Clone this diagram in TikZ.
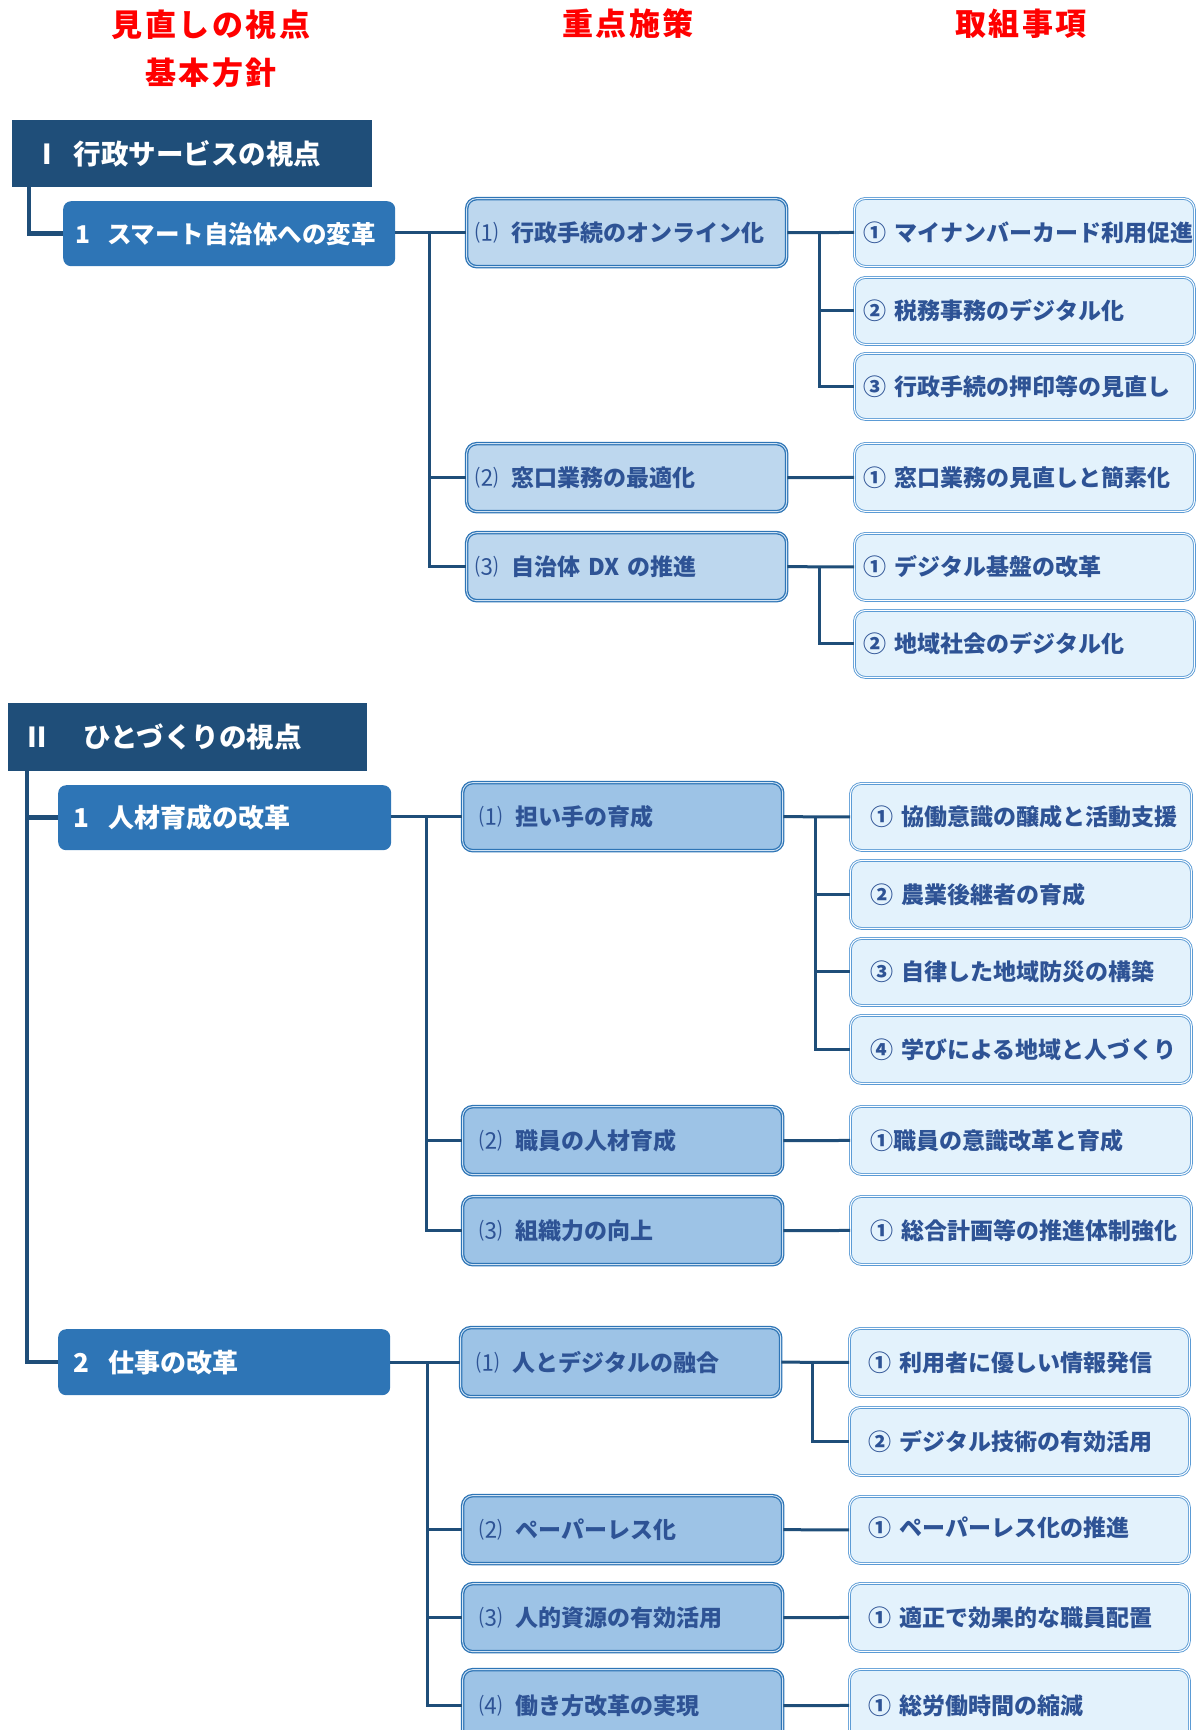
\documentclass[tikz,border=0pt]{standalone}
\usepackage{fontspec}
\newfontfamily\jp{Noto Sans CJK JP}
\usetikzlibrary{calc}
\definecolor{navy}{HTML}{1F4E79}
\definecolor{lvtwo}{HTML}{2E75B6}
\definecolor{midA}{HTML}{BDD7EE}
\definecolor{midB}{HTML}{9DC3E6}
\definecolor{midline}{HTML}{2E75B6}
\definecolor{rfill}{HTML}{E3F2FC}
\definecolor{rline}{HTML}{5B9BD5}
\definecolor{txtblue}{HTML}{2E5395}
\definecolor{conncol}{HTML}{1F4E79}
\newcommand{\hdrfnt}{\jp\bfseries\fontsize{27.5pt}{31pt}\selectfont}
\newcommand{\lvfnt}{\jp\bfseries\fontsize{26pt}{30pt}\selectfont}
\newcommand{\boxfnt}{\jp\bfseries\fontsize{23pt}{27pt}\selectfont}
\newcommand{\ttlfnt}{\jp\bfseries\fontsize{31pt}{36pt}\selectfont\addfontfeatures{LetterSpace=8}}
\newcommand{\pn}[1]{{\mdseries #1}\hspace{13pt}}
\newcommand{\cn}[1]{#1\hspace{8pt}}
\begin{document}
\begin{tikzpicture}[x=1pt,y=-1pt,
  hdrbox/.style={anchor=north west, fill=navy, text=white, font=\hdrfnt, inner ysep=0pt, align=left},
  lvbox/.style={anchor=north west, fill=lvtwo, text=white, font=\lvfnt, rounded corners=8pt, inner ysep=0pt, align=left},
  midbox/.style={anchor=north west, draw=midline, line width=1.3pt, double=white!55!midB, double distance=0.9pt, rounded corners=10pt, text=txtblue, font=\boxfnt, inner ysep=0pt, align=left},
  midI/.style={midbox, fill=midA, inner xsep=9pt, text width=302pt},
  midII/.style={midbox, fill=midB, inner xsep=17pt, text width=286pt},
  midIII/.style={midbox, fill=midB, inner xsep=16pt, text width=288pt},
  rbox/.style={anchor=north west, draw=rline, line width=0.9pt, double=white, double distance=1pt, fill=rfill, rounded corners=11pt, text=txtblue, font=\boxfnt, inner ysep=0pt, align=left},
  rI/.style={rbox, inner xsep=9pt, text width=322pt},
  rII/.style={rbox, inner xsep=20pt, text width=301pt},
  rIII/.style={rbox, inner xsep=19pt, text width=302pt},
  conn/.style={draw=conncol, line width=3pt},
  trunk/.style={draw=conncol, line width=4.5pt},
  ttl/.style={text=red, font=\ttlfnt, inner sep=0pt}
]
\useasboundingbox (0,0) rectangle (1201,1730);

% column titles
\node[ttl] (t1) at (211,25) {見直しの視点};
\node[ttl] (t2) at (211,73) {基本方針};
\node[ttl] (t3) at (628,24) {重点施策};
\node[ttl] (t4) at (1021,24) {取組事項};

% ---------- Section I ----------
\node[hdrbox, inner xsep=21pt, text width=318pt, minimum height=67pt] (h1) at (12,120) {\mbox{Ⅰ\hspace{13pt}行政サービスの視点}};
\node[lvbox, inner xsep=12pt, text width=308pt, minimum height=65pt] (b1) at (63,201) {\mbox{\fontsize{24.5pt}{28pt}\selectfont 1\hspace{17pt}スマート自治体への変革}};

\node[midI, minimum height=68pt] (m11) at (466,198) {\mbox{\pn{⑴}行政手続のオンライン化}};
\node[midI, minimum height=68pt] (m12) at (466,443) {\mbox{\pn{⑵}窓口業務の最適化}};
\node[midI, minimum height=68pt] (m13) at (466,532) {\mbox{\pn{⑶}自治体 DX の推進}};

\node[rI, minimum height=68pt] (r11) at (854,198) {\mbox{\cn{①}マイナンバーカード利用促進}};
\node[rI, minimum height=67pt] (r12) at (854,277) {\mbox{\cn{②}税務事務のデジタル化}};
\node[rI, minimum height=66pt] (r13) at (854,353) {\mbox{\cn{③}行政手続の押印等の見直し}};
\node[rI, minimum height=68pt] (r14) at (854,443) {\mbox{\cn{①}窓口業務の見直しと簡素化}};
\node[rI, minimum height=67pt] (r15) at (854,533) {\mbox{\cn{①}デジタル基盤の改革}};
\node[rI, minimum height=67pt] (r16) at (854,610) {\mbox{\cn{②}地域社会のデジタル化}};

\coordinate (busA) at (429,0);
\coordinate (subA) at (819,0);
\draw[trunk] ($(h1.south west)+(17,0)$) |- (b1.west);
\draw[conn] (b1.east |- m11.west) -- (m11.west);
\draw[conn] (busA |- m11.west) |- (m12.west);
\draw[conn] (busA |- m11.west) |- (m13.west);
\draw[conn] (m11.east) -- (r11.west);
\draw[conn] (subA |- m11.east) |- (r12.west);
\draw[conn] (subA |- m11.east) |- (r13.west);
\draw[conn] (m12.east) -- (r14.west);
\draw[conn] (m13.east) -- (r15.west);
\draw[conn] (subA |- m13.east) |- (r16.west);

% ---------- Section II ----------
\node[hdrbox, inner xsep=15pt, text width=329pt, minimum height=68pt] (h2) at (8,703) {\mbox{Ⅱ\hspace{33pt}ひとづくりの視点}};
\node[lvbox, inner xsep=15pt, text width=303pt, minimum height=65pt] (b2) at (58,785) {\mbox{1\hspace{19pt}人材育成の改革}};
\node[lvbox, inner xsep=15pt, text width=302pt, minimum height=66pt] (b3) at (58,1329) {\mbox{2\hspace{19pt}仕事の改革}};

\node[midII, minimum height=68pt] (m21) at (462,782) {\mbox{\pn{⑴}担い手の育成}};
\node[midII, minimum height=68pt] (m22) at (462,1106) {\mbox{\pn{⑵}職員の人材育成}};
\node[midII, minimum height=68pt] (m23) at (462,1196) {\mbox{\pn{⑶}組織力の向上}};

\node[rII, minimum height=67pt] (r21) at (850,783) {\mbox{\cn{①}協働意識の醸成と活動支援}};
\node[rII, minimum height=68pt] (r22) at (850,860) {\mbox{\cn{②}農業後継者の育成}};
\node[rII, minimum height=67pt] (r23) at (850,938) {\mbox{\cn{③}自律した地域防災の構築}};
\node[rII, minimum height=68pt] (r24) at (850,1015) {\mbox{\cn{④}学びによる地域と人づくり}};
\node[rII, minimum height=68pt] (r25) at (850,1106) {\mbox{\raisebox{-3pt}{①職員の意識改革と育成}}};
\node[rII, minimum height=68pt] (r26) at (850,1196) {\mbox{\cn{①}総合計画等の推進体制強化}};

\node[midIII, minimum height=69pt] (m31) at (460,1327) {\mbox{\pn{⑴}人とデジタルの融合}};
\node[midII, minimum height=68pt] (m32) at (462,1495) {\mbox{\pn{⑵}ペーパーレス化}};
\node[midII, minimum height=68pt] (m33) at (462,1583) {\mbox{\pn{⑶}人的資源の有効活用}};
\node[midII, minimum height=72pt] (m34) at (462,1669) {\mbox{\pn{⑷}働き方改革の実現}};

\node[rIII, minimum height=68pt] (r31) at (849,1328) {\mbox{\cn{①}利用者に優しい情報発信}};
\node[rIII, minimum height=68pt] (r32) at (849,1407) {\mbox{\cn{②}デジタル技術の有効活用}};
\node[rIII, minimum height=67pt] (r33) at (849,1496) {\mbox{\raisebox{6pt}{\cn{①}ペーパーレス化の推進}}};
\node[rIII, minimum height=68pt] (r34) at (849,1583) {\mbox{\cn{①}適正で効果的な職員配置}};
\node[rIII, minimum height=72pt] (r35) at (849,1669) {\mbox{\cn{①}総労働時間の縮減}};

\coordinate (trII) at ($(h2.south west)+(19,0)$);
\coordinate (busB) at (426,0);
\coordinate (subB) at (815,0);
\coordinate (busC) at (427,0);
\coordinate (subC) at (812,0);
\draw[trunk] (trII) |- (b3.west);
\draw[trunk] (trII |- b2.west) -- (b2.west);

\draw[conn] (b2.east |- m21.west) -- (m21.west);
\draw[conn] (busB |- m21.west) |- (m22.west);
\draw[conn] (busB |- m21.west) |- (m23.west);
\draw[conn] (m21.east) -- (r21.west);
\draw[conn] (subB |- m21.east) |- (r22.west);
\draw[conn] (subB |- m21.east) |- (r23.west);
\draw[conn] (subB |- m21.east) |- (r24.west);
\draw[conn] (m22.east) -- (r25.west);
\draw[conn] (m23.east) -- (r26.west);

\draw[conn] (b3.east |- m31.west) -- (m31.west);
\draw[conn] (busC |- m31.west) |- (m32.west);
\draw[conn] (busC |- m31.west) |- (m33.west);
\draw[conn] (busC |- m31.west) |- (m34.west);
\draw[conn] (m31.east) -- (r31.west);
\draw[conn] (subC |- m31.east) |- (r32.west);
\draw[conn] (m32.east) -- (r33.west);
\draw[conn] (m33.east) -- (r34.west);
\draw[conn] (m34.east) -- (r35.west);
\end{tikzpicture}
\end{document}
